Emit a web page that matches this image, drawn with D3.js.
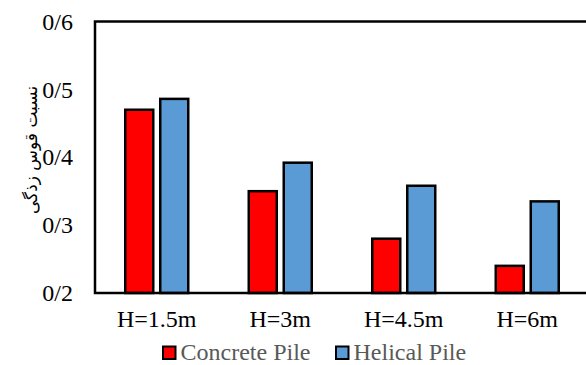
<!DOCTYPE html>
<html><head><meta charset="utf-8">
<script src="https://cdn.jsdelivr.net/npm/d3@7"></script>
<style>body{margin:0;background:#fff}svg{display:block}
.serif{font-family:"Liberation Serif","Times New Roman",Times,"DejaVu Serif",serif}</style>
</head><body>
<svg id="c" width="586" height="365"></svg>
<script>
const categories = ["H=1.5m", "H=3m", "H=4.5m", "H=6m"];
const seriesNames = ["Concrete Pile", "Helical Pile"];
const concrete = [0.47, 0.35, 0.28, 0.24];
const helical = [0.486, 0.392, 0.358, 0.335];
const yTicks = [0.2, 0.3, 0.4, 0.5, 0.6];
const colors = ["#FF0000", "#5B9BD5"];
const yTitle = "نسبت قوس زذگی";

const svg = d3.select("#c");
const L = 95, R = 589, T = 21.5, B = 293;

const x0 = d3.scaleBand().domain(categories).range([L, R]).paddingInner(0.49).paddingOuter(0.245);
const x1 = d3.scaleBand().domain(seriesNames).range([0, x0.bandwidth()]).paddingInner(0.2);
const y = d3.scaleLinear().domain([0.2, 0.6]).range([B, T]);

const values = [concrete, helical];
const g = svg.append("g");
categories.forEach((c, i) => {
  seriesNames.forEach((s, j) => {
    g.append("rect")
      .attr("x", x0(c) + x1(s))
      .attr("y", y(values[j][i]))
      .attr("width", x1.bandwidth())
      .attr("height", y(0.2) - y(values[j][i]))
      .attr("fill", colors[j])
      .attr("stroke", "#000")
      .attr("stroke-width", 2.5);
  });
});

// frame
svg.append("path")
  .attr("d", `M${R + 5},${T} H${L} V${B} H${R + 5}`)
  .attr("fill", "none").attr("stroke", "#000").attr("stroke-width", 2.5);

// y axis labels
const yAxis = d3.axisLeft(y).tickValues(yTicks).tickSize(0).tickPadding(22)
  .tickFormat(d => "0/" + Math.round(d * 10));
const ya = svg.append("g").attr("transform", `translate(${L},0)`).call(yAxis)
  .attr("font-family", null).attr("font-size", null);
ya.select(".domain").remove();
ya.selectAll("text").attr("class", "serif").style("font-size", "24px").attr("fill", "#000");

// x axis labels
const xAxis = d3.axisBottom(x0).tickSize(0).tickPadding(17);
const xa = svg.append("g").attr("transform", `translate(0,${B})`).call(xAxis)
  .attr("font-family", null).attr("font-size", null);
xa.select(".domain").remove();
xa.selectAll("text").attr("class", "serif").style("font-size", "24px").attr("fill", "#000");

// y title
svg.append("text")
  .attr("transform", "translate(37,150) rotate(-90)")
  .attr("text-anchor", "middle")
  .style("font-family", "'DejaVu Sans','Noto Sans',sans-serif")
  .style("font-size", "17px")
  .attr("fill", "#000")
  .text(yTitle);

// legend
const legendX = [163, 336];
seriesNames.forEach((s, j) => {
  svg.append("rect").attr("x", legendX[j]).attr("y", 346.5)
    .attr("width", 12.5).attr("height", 12.5)
    .attr("fill", colors[j]).attr("stroke", "#000").attr("stroke-width", 2);
  svg.append("text").attr("x", legendX[j] + 17.5).attr("y", 359.5)
    .attr("class", "serif").style("font-size", "24px").attr("fill", "#595959")
    .text(s);
});
</script>
</body></html>
